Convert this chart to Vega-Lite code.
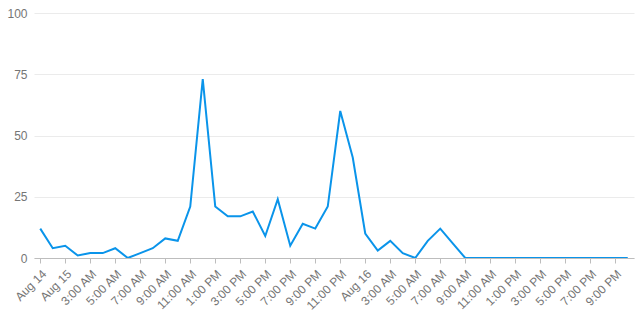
{
  "$schema": "https://vega.github.io/schema/vega-lite/v6.json",
  "autosize": "none",
  "width": 600,
  "height": 245,
  "padding": {"left": 34, "top": 13, "right": 7, "bottom": 77},
  "background": "white",
  "config": {
    "view": {"stroke": null},
    "font": "Liberation Sans",
    "axis": {"labelFont": "Liberation Sans", "labelFontSize": 12, "labelColor": "#757575", "title": null}
  },
  "data": {
    "values": [
      {"t": "2021-08-14T23:00:00Z", "v": 12},
      {"t": "2021-08-15T00:00:00Z", "v": 4},
      {"t": "2021-08-15T01:00:00Z", "v": 5},
      {"t": "2021-08-15T02:00:00Z", "v": 1},
      {"t": "2021-08-15T03:00:00Z", "v": 2},
      {"t": "2021-08-15T04:00:00Z", "v": 2},
      {"t": "2021-08-15T05:00:00Z", "v": 4},
      {"t": "2021-08-15T06:00:00Z", "v": 0},
      {"t": "2021-08-15T07:00:00Z", "v": 2},
      {"t": "2021-08-15T08:00:00Z", "v": 4},
      {"t": "2021-08-15T09:00:00Z", "v": 8},
      {"t": "2021-08-15T10:00:00Z", "v": 7},
      {"t": "2021-08-15T11:00:00Z", "v": 21},
      {"t": "2021-08-15T12:00:00Z", "v": 73},
      {"t": "2021-08-15T13:00:00Z", "v": 21},
      {"t": "2021-08-15T14:00:00Z", "v": 17},
      {"t": "2021-08-15T15:00:00Z", "v": 17},
      {"t": "2021-08-15T16:00:00Z", "v": 19},
      {"t": "2021-08-15T17:00:00Z", "v": 9},
      {"t": "2021-08-15T18:00:00Z", "v": 24},
      {"t": "2021-08-15T19:00:00Z", "v": 5},
      {"t": "2021-08-15T20:00:00Z", "v": 14},
      {"t": "2021-08-15T21:00:00Z", "v": 12},
      {"t": "2021-08-15T22:00:00Z", "v": 21},
      {"t": "2021-08-15T23:00:00Z", "v": 60},
      {"t": "2021-08-16T00:00:00Z", "v": 41},
      {"t": "2021-08-16T01:00:00Z", "v": 10},
      {"t": "2021-08-16T02:00:00Z", "v": 3},
      {"t": "2021-08-16T03:00:00Z", "v": 7},
      {"t": "2021-08-16T04:00:00Z", "v": 2},
      {"t": "2021-08-16T05:00:00Z", "v": 0},
      {"t": "2021-08-16T06:00:00Z", "v": 7},
      {"t": "2021-08-16T07:00:00Z", "v": 12},
      {"t": "2021-08-16T08:00:00Z", "v": 6},
      {"t": "2021-08-16T09:00:00Z", "v": 0},
      {"t": "2021-08-16T10:00:00Z", "v": 0},
      {"t": "2021-08-16T11:00:00Z", "v": 0},
      {"t": "2021-08-16T12:00:00Z", "v": 0},
      {"t": "2021-08-16T13:00:00Z", "v": 0},
      {"t": "2021-08-16T14:00:00Z", "v": 0},
      {"t": "2021-08-16T15:00:00Z", "v": 0},
      {"t": "2021-08-16T16:00:00Z", "v": 0},
      {"t": "2021-08-16T17:00:00Z", "v": 0},
      {"t": "2021-08-16T18:00:00Z", "v": 0},
      {"t": "2021-08-16T19:00:00Z", "v": 0},
      {"t": "2021-08-16T20:00:00Z", "v": 0},
      {"t": "2021-08-16T21:00:00Z", "v": 0},
      {"t": "2021-08-16T22:00:00Z", "v": 0}
    ]
  },
  "mark": {"type": "line", "color": "#0a94ea", "strokeWidth": 2, "clip": true},
  "encoding": {
    "x": {
      "field": "t",
      "type": "temporal",
      "scale": {
        "type": "utc",
        "domain": [
          {"year": 2021, "month": 8, "date": 14, "hours": 22, "minutes": 30, "utc": true},
          {"year": 2021, "month": 8, "date": 16, "hours": 22, "minutes": 30, "utc": true}
        ]
      },
      "axis": {
        "values": [
          {"year": 2021, "month": 8, "date": 14, "hours": 23, "utc": true},
          {"year": 2021, "month": 8, "date": 15, "hours": 1, "utc": true},
          {"year": 2021, "month": 8, "date": 15, "hours": 3, "utc": true},
          {"year": 2021, "month": 8, "date": 15, "hours": 5, "utc": true},
          {"year": 2021, "month": 8, "date": 15, "hours": 7, "utc": true},
          {"year": 2021, "month": 8, "date": 15, "hours": 9, "utc": true},
          {"year": 2021, "month": 8, "date": 15, "hours": 11, "utc": true},
          {"year": 2021, "month": 8, "date": 15, "hours": 13, "utc": true},
          {"year": 2021, "month": 8, "date": 15, "hours": 15, "utc": true},
          {"year": 2021, "month": 8, "date": 15, "hours": 17, "utc": true},
          {"year": 2021, "month": 8, "date": 15, "hours": 19, "utc": true},
          {"year": 2021, "month": 8, "date": 15, "hours": 21, "utc": true},
          {"year": 2021, "month": 8, "date": 15, "hours": 23, "utc": true},
          {"year": 2021, "month": 8, "date": 16, "hours": 1, "utc": true},
          {"year": 2021, "month": 8, "date": 16, "hours": 3, "utc": true},
          {"year": 2021, "month": 8, "date": 16, "hours": 5, "utc": true},
          {"year": 2021, "month": 8, "date": 16, "hours": 7, "utc": true},
          {"year": 2021, "month": 8, "date": 16, "hours": 9, "utc": true},
          {"year": 2021, "month": 8, "date": 16, "hours": 11, "utc": true},
          {"year": 2021, "month": 8, "date": 16, "hours": 13, "utc": true},
          {"year": 2021, "month": 8, "date": 16, "hours": 15, "utc": true},
          {"year": 2021, "month": 8, "date": 16, "hours": 17, "utc": true},
          {"year": 2021, "month": 8, "date": 16, "hours": 19, "utc": true},
          {"year": 2021, "month": 8, "date": 16, "hours": 21, "utc": true}
        ],
        "labelExpr": "utchours(datum.value) == 23 && utcdate(datum.value) == 14 ? 'Aug 14' : utchours(datum.value) == 1 ? utcFormat(datum.value, '%b %-d') : utcFormat(datum.value, '%-I:%M %p')",
        "labelAngle": -45,
        "labelAlign": "right",
        "labelBaseline": "top",
        "labelPadding": 5,
        "labelOverlap": false,
        "labelFlush": false,
        "grid": false,
        "domainColor": "#bdbdbd",
        "tickColor": "#bdbdbd",
        "tickSize": 5
      }
    },
    "y": {
      "field": "v",
      "type": "quantitative",
      "scale": {"domain": [0, 100], "nice": false},
      "axis": {
        "values": [0, 25, 50, 75, 100],
        "ticks": false,
        "domain": false,
        "gridColor": "#ebebeb",
        "labelPadding": 7
      }
    }
  }
}
